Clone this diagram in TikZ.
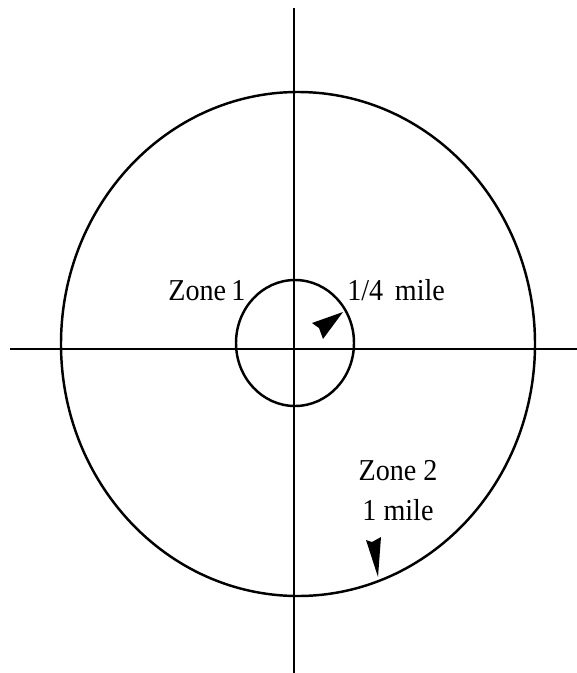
\documentclass[tikz,border=0pt]{standalone}
\usepackage{fontspec}
\setmainfont{Liberation Serif}
\begin{document}
\begin{tikzpicture}[x=0.02cm, y=-0.02cm,
  ln/.style={black, line width=1.2pt},
  zn/.style={black, line width=1.4pt},
  lb/.style={inner sep=0pt, yscale=1.08, font=\fontsize{16}{21}\selectfont},
  hd/.style={fill=black}]
\useasboundingbox (0,0) rectangle (577,673);
% axes
\coordinate (l) at (10,349);
\coordinate (r) at (577,349);
\coordinate (t) at (294,8);
\coordinate (b) at (294,673);
\draw[ln] (l) -- (r);
\draw[ln] (t) -- (b);
% zones
\coordinate (c2) at (298,344);
\coordinate (c1) at (295,343);
\draw[zn] (c2) ellipse [x radius=237, y radius=252];
\draw[zn] (c1) ellipse [x radius=59, y radius=63];
% arrow heads
\fill[hd] (343,312) -- (312,323) -- (319,328) -- (323,339) -- cycle;
\fill[hd] (378,577) -- (366,540) -- (372,542) -- (381,537) -- cycle;
% labels
\node[lb, anchor=base west] (z1) at (168,300) {Zone\kern-1pt\ 1};
\node[lb, anchor=base west] (q1) at (347,300) {1/4\, mile};
\node[lb, anchor=base, align=center] (z2) at (398,520) {Zone 2\\1 mile};
\end{tikzpicture}
\end{document}
